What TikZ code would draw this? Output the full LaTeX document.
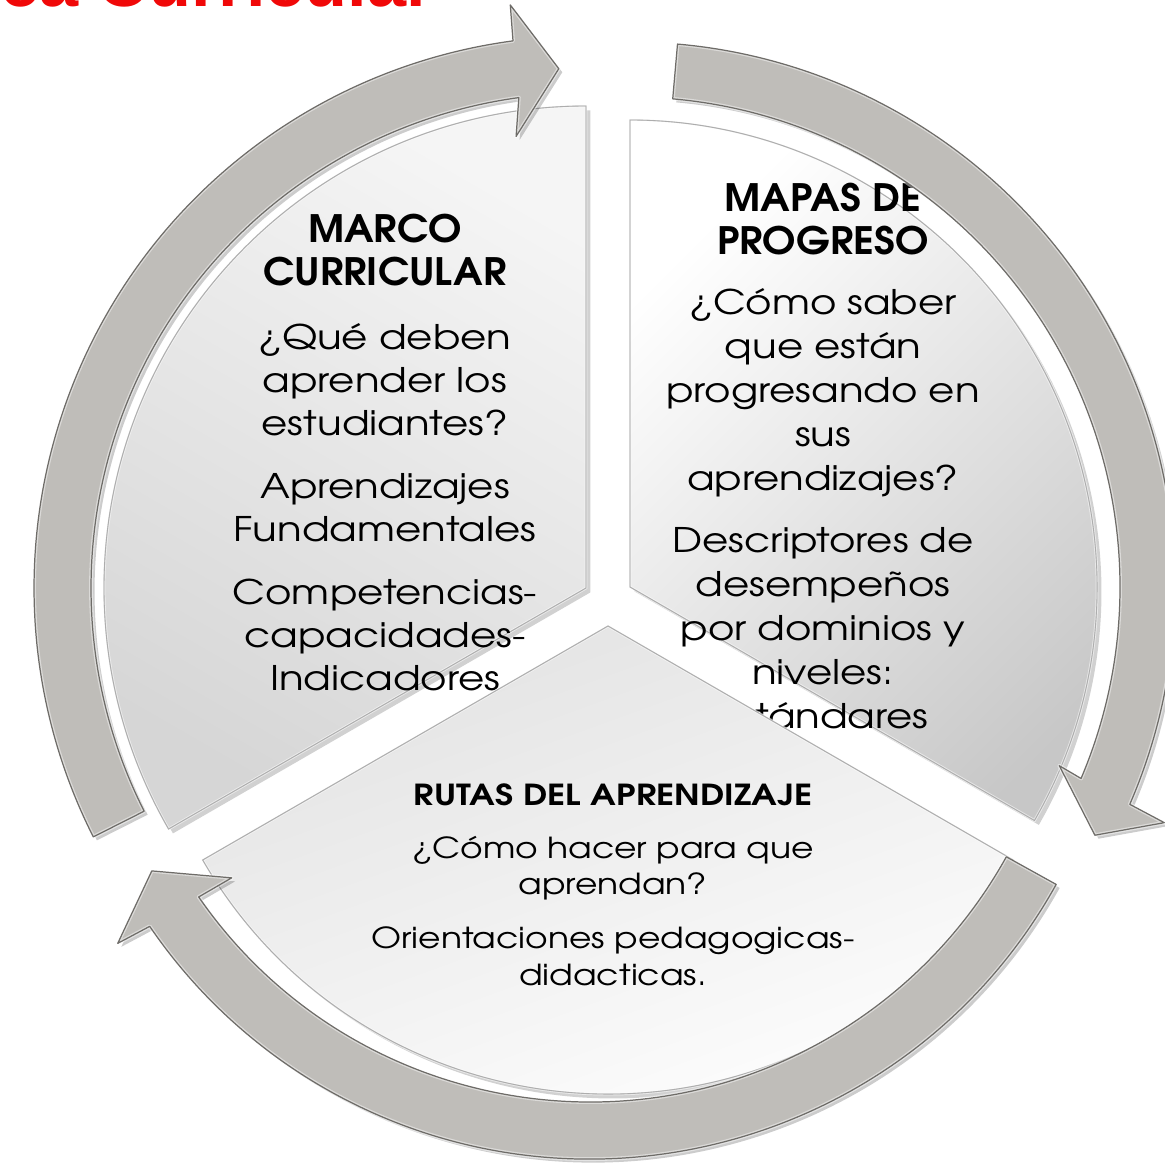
\documentclass[tikz,border=0pt]{standalone}
\usepackage{fontspec}
\newfontfamily\advfont{texgyreadventor}[Extension=.otf, UprightFont=*-regular, BoldFont=*-bold, FakeStretch=1.19]
\newfontfamily\advhead{texgyreadventor}[Extension=.otf, UprightFont=*-bold, FakeStretch=1.06]
\newfontfamily\advheadwide{texgyreadventor}[Extension=.otf, UprightFont=*-bold, FakeStretch=1.2]
\newfontfamily\redfont{Liberation Sans}
\usetikzlibrary{shadows}
\definecolor{arrowfill}{RGB}{191,189,185}
\definecolor{arrowedge}{RGB}{110,108,104}
\definecolor{redtitle}{RGB}{240,8,8}
\tikzset{
  sector/.style={draw=black!30, line width=0.7pt,
    drop shadow={shadow xshift=2.5pt, shadow yshift=-2.5pt, opacity=0.18, fill=black},
    postaction={draw=white, line width=1.6pt, opacity=0.55},
    postaction={draw=black!32, line width=0.5pt}},
  cyclearrow/.style={fill=arrowfill, line join=round,
    drop shadow={shadow xshift=2pt, shadow yshift=-2pt, opacity=0.2, fill=black},
    postaction={draw=white, line width=2.2pt, opacity=0.45},
    postaction={draw=arrowedge, line width=0.7pt}},
  body/.style={font=\advfont\fontsize{19.3}{23}\selectfont, anchor=base, inner sep=0pt},
  head/.style={font=\advhead\fontsize{21.5}{26}\selectfont, anchor=base, inner sep=0pt},
  sbody/.style={font=\advfont\fontsize{16.5}{20}\selectfont, anchor=base, inner sep=0pt},
  shead/.style={font=\advheadwide\fontsize{16.5}{19}\selectfont, anchor=base, inner sep=0pt},
}
\begin{document}
\begin{tikzpicture}[x=0.02cm, y=0.02cm]
\useasboundingbox (0,0) rectangle (1165,-1166);

% partial red title (cut by the top edge)
\node[font=\redfont\bfseries\fontsize{40}{44}\selectfont, text=redtitle, anchor=base west, inner sep=0pt]
  (title) at (-172,-7) {Política Curricular};

% left sector
\path[sector, top color=black!4, bottom color=black!16, shading angle=-30]
  (586,-588) -- ++(90:482) arc[start angle=90, end angle=210, radius=482] -- cycle;
\node[head] (l1) at (385,-242) {MARCO};
\node[head] (l2) at (385,-285) {CURRICULAR};
\node[body] (l3) at (385,-349) {¿Qué deben};
\node[body] (l4) at (385,-392) {aprender los};
\node[body] (l5) at (385,-435) {estudiantes?};
\node[body] (l6) at (385,-498) {Aprendizajes};
\node[body] (l7) at (385,-541) {Fundamentales};
\node[body] (l8) at (385,-604) {Competencias-};
\node[body] (l9) at (385,-647) {capacidades-};
\node[body] (l10) at (385,-690) {Indicadores};

% right sector
\path[sector, top color=white, bottom color=black!22, shading angle=45]
  (630,-587) -- ++(-30:467) arc[start angle=-30, end angle=90, radius=467] -- cycle;
\node[head] (r1) at (823,-211) {MAPAS DE};
\node[head] (r2) at (823,-254) {PROGRESO};
\node[body] (r3) at (823,-314) {¿Cómo saber};
\node[body] (r4) at (823,-358) {que están};
\node[body] (r5) at (823,-402) {progresando en};
\node[body] (r6) at (823,-446) {sus};
\node[body] (r7) at (823,-490) {aprendizajes?};
\node[body] (r8) at (823,-552) {Descriptores de};
\node[body] (r9) at (823,-596) {desempeños};
\node[body] (r10) at (823,-640) {por dominios y};
\node[body] (r11) at (823,-684) {niveles:};
\node[body] (r12) at (823,-728) {Estándares};

% bottom sector
\path[sector, top color=black!11, bottom color=white, shading angle=20]
  (608,-626) -- ++(210:468) arc[start angle=210, end angle=330, radius=468] -- cycle;
\node[shead] (b1) at (613,-805) {RUTAS DEL APRENDIZAJE};
\node[sbody] (b2) at (613,-858) {¿Cómo hacer para que};
\node[sbody] (b3) at (613,-894) {aprendan?};
\node[sbody] (b4) at (613,-948) {Orientaciones pedagogicas-};
\node[sbody] (b5) at (613,-985) {didacticas.};

% circular arrows
\begin{scope}[shift={(586,-588)}]
\path[cyclearrow] (206.8:552) arc[start angle=206.8, end angle=97.6, radius=552]
  -- (97.4:588) -- (93:520) -- (98.8:457) -- (97.8:495)
  arc[start angle=97.8, end angle=206.8, radius=495] -- cycle;
\end{scope}
\begin{scope}[shift={(630,-587)}]
\path[cyclearrow] (85:545) arc[start angle=85, end angle=-23.5, radius=545]
  -- (-23.8:584) -- (-28.1:527) -- (-22.6:465) -- (-23:490)
  arc[start angle=-23, end angle=85, radius=490] -- cycle;
\end{scope}
\begin{scope}[shift={(590,-626)}]
\path[cyclearrow] (331:533) arc[start angle=331, end angle=214.3, radius=533]
  -- (213.9:569) -- (209.2:502) -- (215.1:438) -- (214.7:476)
  arc[start angle=214.7, end angle=331, radius=476] -- cycle;
\end{scope}
\end{tikzpicture}
\end{document}
